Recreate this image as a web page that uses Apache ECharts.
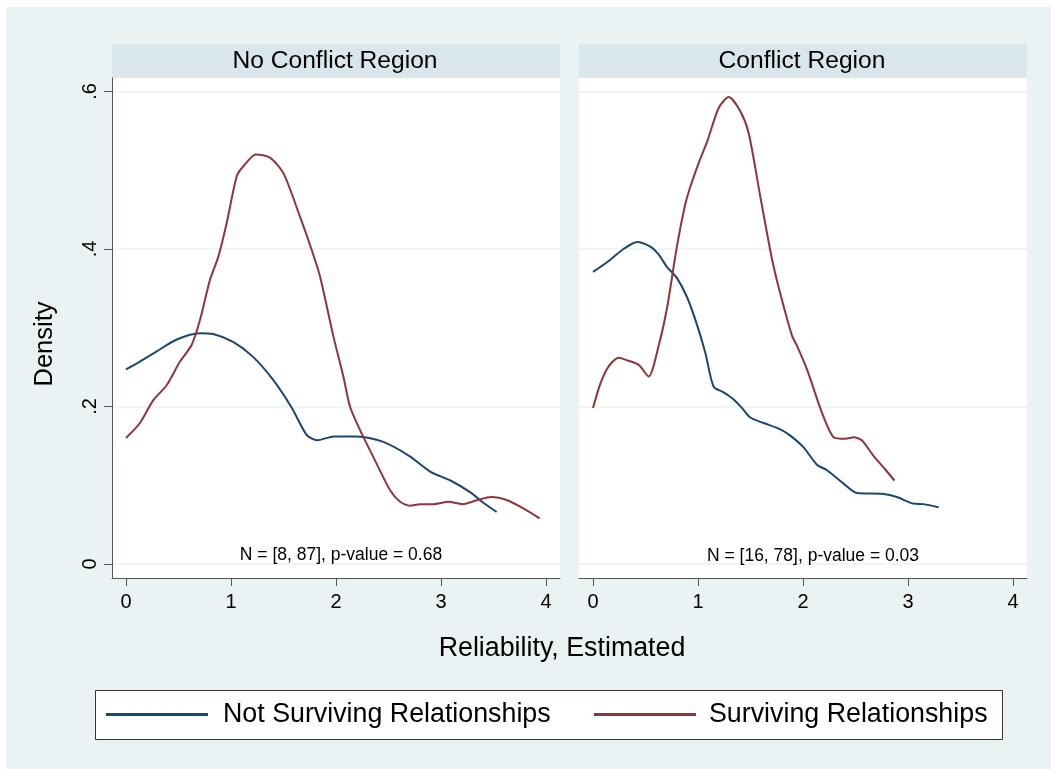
<!DOCTYPE html>
<html>
<head>
<meta charset="utf-8">
<script src="https://cdn.jsdelivr.net/npm/echarts@6/dist/echarts.min.js"></script>
<style>
html,body{margin:0;padding:0;background:#fff;}
#chart{width:1051px;height:769px;}
</style>
</head>
<body>
<div id="chart"></div>
<script>
// ---- Data ----
const panelTitles = ['No Conflict Region', 'Conflict Region'];
const panelNotes = ['N = [8, 87], p-value = 0.68', 'N = [16, 78], p-value = 0.03'];
const seriesNames = ['Not Surviving Relationships', 'Surviving Relationships'];
const xTicks = [0, 1, 2, 3, 4];
const yTicks = [0, 0.2, 0.4, 0.6];
const yTickLabels = ['0', '.2', '.4', '.6'];

// No Conflict Region - Not Surviving
const ncNotX = [0, 0.133, 0.292, 0.483, 0.705, 0.83, 1.02, 1.21, 1.40, 1.58, 1.72, 1.82, 1.98, 2.20, 2.45, 2.70, 2.90, 3.09, 3.28, 3.40, 3.53];
const ncNotY = [0.247, 0.257, 0.270, 0.285, 0.293, 0.292, 0.282, 0.263, 0.234, 0.198, 0.164, 0.157, 0.162, 0.162, 0.155, 0.137, 0.117, 0.106, 0.091, 0.078, 0.066];
// No Conflict Region - Surviving
const ncSurvX = [0, 0.133, 0.26, 0.387, 0.514, 0.625, 0.705, 0.80, 0.879, 0.959, 1.054, 1.117, 1.238, 1.371, 1.50, 1.657, 1.768, 1.848, 1.975, 2.07, 2.133, 2.229, 2.355, 2.514, 2.61, 2.705, 2.80, 2.927, 3.07, 3.21, 3.34, 3.48, 3.63, 3.78, 3.94];
const ncSurvY = [0.160, 0.179, 0.208, 0.227, 0.257, 0.278, 0.310, 0.361, 0.390, 0.433, 0.492, 0.505, 0.520, 0.516, 0.496, 0.441, 0.399, 0.365, 0.289, 0.238, 0.200, 0.170, 0.136, 0.094, 0.079, 0.074, 0.076, 0.076, 0.079, 0.076, 0.081, 0.085, 0.081, 0.071, 0.058];
// Conflict Region - Not Surviving
const cNotX = [0, 0.10, 0.18, 0.29, 0.42, 0.546, 0.625, 0.705, 0.80, 0.895, 0.99, 1.07, 1.149, 1.244, 1.34, 1.42, 1.498, 1.625, 1.784, 1.879, 2.006, 2.133, 2.229, 2.387, 2.514, 2.768, 2.895, 3.038, 3.149, 3.292];
const cNotY = [0.371, 0.380, 0.388, 0.400, 0.409, 0.403, 0.393, 0.377, 0.363, 0.339, 0.304, 0.268, 0.225, 0.218, 0.209, 0.198, 0.186, 0.179, 0.171, 0.163, 0.148, 0.126, 0.119, 0.102, 0.090, 0.089, 0.085, 0.077, 0.076, 0.072];
// Conflict Region - Surviving
const cSurvX = [0, 0.07, 0.149, 0.244, 0.34, 0.435, 0.53, 0.625, 0.705, 0.80, 0.879, 0.927, 1.006, 1.086, 1.197, 1.292, 1.403, 1.483, 1.594, 1.705, 1.784, 1.895, 1.943, 2.038, 2.181, 2.292, 2.403, 2.483, 2.56, 2.673, 2.784, 2.87];
const cSurvY = [0.198, 0.229, 0.251, 0.262, 0.258, 0.253, 0.238, 0.277, 0.325, 0.404, 0.457, 0.479, 0.509, 0.536, 0.579, 0.593, 0.575, 0.547, 0.466, 0.387, 0.343, 0.290, 0.277, 0.247, 0.192, 0.161, 0.159, 0.161, 0.157, 0.137, 0.120, 0.106];

// ---- Styles ----
const BLUE = '#1A476F', RED = '#90353B';
const BG = '#EAF2F3', STRIP = '#D9E6EB', AXIS = '#555555';
const FONT = 'Liberation Sans, Arial, Helvetica, sans-serif';
const grids = [{left: 112, top: 78, width: 448, height: 500}, {left: 579, top: 78, width: 448, height: 500}];
const XMIN = -0.1333, XMAX = 4.1333, YMIN = -0.0178, YMAX = 0.6171;

function zip(xs, ys) { return xs.map((x, i) => [x, ys[i]]); }

const xAxes = grids.map((g, i) => ({
  type: 'value', gridIndex: i, min: XMIN, max: XMAX,
  axisLine: {show: true, onZero: false, lineStyle: {color: AXIS, width: 1}},
  axisTick: {show: true, length: 8, customValues: xTicks, lineStyle: {color: AXIS}},
  axisLabel: {show: true, customValues: xTicks, fontSize: 20, fontFamily: FONT, color: '#000', margin: 14,
    formatter: v => String(v)},
  splitLine: {show: false}
}));
const yAxes = grids.map((g, i) => ({
  type: 'value', gridIndex: i, min: YMIN, max: YMAX,
  axisLine: {show: i === 0, onZero: false, lineStyle: {color: AXIS, width: 1}},
  axisTick: {show: i === 0, length: 8, customValues: yTicks, lineStyle: {color: AXIS}},
  axisLabel: {show: i === 0, customValues: yTicks, rotate: 90, fontSize: 20, fontFamily: FONT, color: '#000', margin: 12,
    formatter: v => yTickLabels[yTicks.findIndex(t => Math.abs(t - v) < 1e-6)] ?? ''},
  splitLine: {show: true, lineStyle: {color: BG, width: 1.5}}
}));

function lineSeries(name, idx, data, color) {
  return {
    type: 'line', name: name, xAxisIndex: idx, yAxisIndex: idx, data: data,
    showSymbol: false, symbol: 'none', smooth: 0.25, clip: true,
    lineStyle: {color: color, width: 2}, itemStyle: {color: color}, animation: false, z: 3
  };
}

const series = [
  lineSeries(seriesNames[0], 0, zip(ncNotX, ncNotY), BLUE),
  lineSeries(seriesNames[1], 0, zip(ncSurvX, ncSurvY), RED),
  lineSeries(seriesNames[0], 1, zip(cNotX, cNotY), BLUE),
  lineSeries(seriesNames[1], 1, zip(cSurvX, cSurvY), RED)
];

const graphic = [
  {type: 'rect', shape: {x: 6, y: 7, width: 1045, height: 762}, style: {fill: BG}, silent: true, z: -10},
  {type: 'rect', shape: {x: 112, y: 78, width: 448, height: 500}, style: {fill: '#fff'}, silent: true, z: -5},
  {type: 'rect', shape: {x: 579, y: 78, width: 448, height: 500}, style: {fill: '#fff'}, silent: true, z: -5},
  {type: 'rect', shape: {x: 112, y: 44, width: 448, height: 34}, style: {fill: STRIP}, silent: true},
  {type: 'rect', shape: {x: 579, y: 44, width: 448, height: 34}, style: {fill: STRIP}, silent: true},
  {type: 'text', x: 335, y: 61, style: {text: panelTitles[0], fontSize: 24.6, fontFamily: FONT, fill: '#000', align: 'center', verticalAlign: 'middle'}},
  {type: 'text', x: 802, y: 61, style: {text: panelTitles[1], fontSize: 24.6, fontFamily: FONT, fill: '#000', align: 'center', verticalAlign: 'middle'}},
  {type: 'text', x: 341, y: 555, z: 10, style: {text: panelNotes[0], fontSize: 17.5, fontFamily: FONT, fill: '#000', align: 'center', verticalAlign: 'middle'}},
  {type: 'text', x: 813, y: 556, z: 10, style: {text: panelNotes[1], fontSize: 17.5, fontFamily: FONT, fill: '#000', align: 'center', verticalAlign: 'middle'}},
  {type: 'text', x: 45, y: 344, rotation: Math.PI / 2, style: {text: 'Density', fontSize: 25.5, fontFamily: FONT, fill: '#000', align: 'center', verticalAlign: 'middle'}},
  {type: 'text', x: 562, y: 649, style: {text: 'Reliability, Estimated', fontSize: 26.8, fontFamily: FONT, fill: '#000', align: 'center', verticalAlign: 'middle'}},
  {type: 'rect', shape: {x: 95.5, y: 690.5, width: 907, height: 49}, style: {fill: '#fff', stroke: '#333', lineWidth: 1}, silent: true, z: -1}
];

const legendCommon = {
  orient: 'horizontal', padding: 0, itemWidth: 102, itemHeight: 3, icon: 'rect',
  textStyle: {fontSize: 26.8, fontFamily: FONT, color: '#000', padding: [0, 0, 0, 10]},
  selectedMode: false, top: 701
};

const chart = echarts.init(document.getElementById('chart'), null, {renderer: 'canvas'});
chart.setOption({
  animation: false,
  backgroundColor: '#fff',
  grid: grids.map(g => Object.assign({containLabel: false}, g)),
  xAxis: xAxes,
  yAxis: yAxes,
  legend: [
    Object.assign({}, legendCommon, {left: 106, data: [{name: seriesNames[0], itemStyle: {color: BLUE}}]}),
    Object.assign({}, legendCommon, {left: 594, textStyle: Object.assign({}, legendCommon.textStyle, {padding: [0, 0, 0, 8]}), data: [{name: seriesNames[1], itemStyle: {color: RED}}]})
  ],
  graphic: graphic,
  series: series
});
</script>
</body>
</html>
